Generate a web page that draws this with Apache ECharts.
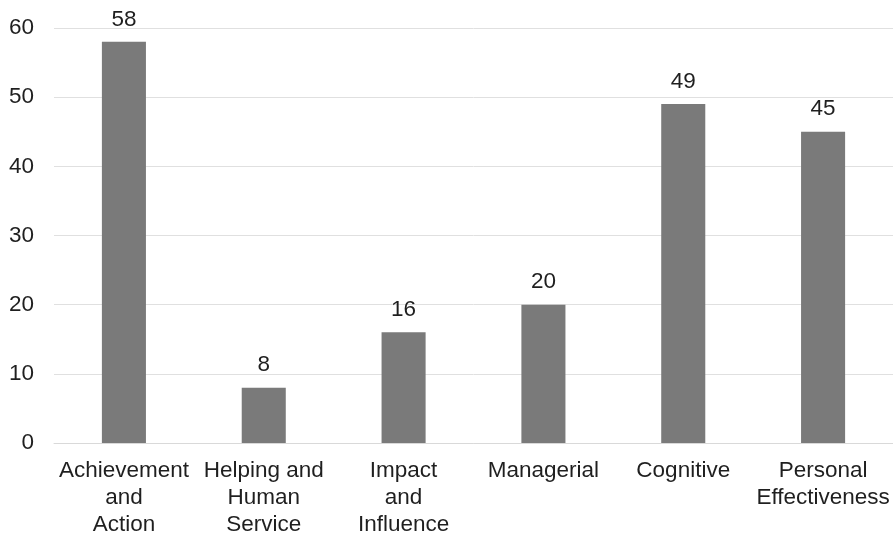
<!DOCTYPE html>
<html>
<head>
<meta charset="utf-8">
<style>
  html, body { margin: 0; padding: 0; background: #ffffff; }
  #chart { width: 893px; height: 538px; }
</style>
<script src="https://cdn.jsdelivr.net/npm/echarts@6/dist/echarts.min.js"></script>
</head>
<body>
<div id="chart"></div>
<script>
// Competency clusters and the count recorded for each
const categories = [
  'Achievement\nand\nAction',
  'Helping and\nHuman\nService',
  'Impact\nand\nInfluence',
  'Managerial',
  'Cognitive',
  'Personal\nEffectiveness'
];
const counts = [58, 8, 16, 20, 49, 45];
const yTicks = { min: 0, max: 60, interval: 10 };

const chart = echarts.init(document.getElementById('chart'), null, { renderer: 'canvas' });

const font = 'Liberation Sans, Arial, sans-serif';

chart.setOption({
  animation: false,
  grid: { left: 54, right: 0, top: 28, bottom: 95, containLabel: false },
  xAxis: {
    type: 'category',
    data: categories,
    axisTick: { show: false },
    axisLine: { show: true, lineStyle: { color: '#d9d9d9', width: 1 } },
    axisLabel: {
      interval: 0,
      margin: 14,
      color: '#1f1f1f',
      fontSize: 22.5,
      lineHeight: 27,
      fontFamily: font,
      align: 'center'
    }
  },
  yAxis: {
    type: 'value',
    min: yTicks.min,
    max: yTicks.max,
    interval: yTicks.interval,
    axisLine: { show: false },
    axisTick: { show: false },
    splitLine: { show: true, lineStyle: { color: '#e0e0e0', width: 1 } },
    axisLabel: {
      margin: 20,
      color: '#1f1f1f',
      fontSize: 22.5,
      fontFamily: font
    }
  },
  series: [{
    type: 'bar',
    data: counts,
    barWidth: '31.5%',
    itemStyle: { color: '#7a7a7a' },
    label: {
      show: true,
      position: 'top',
      distance: 11,
      color: '#1f1f1f',
      fontSize: 22.5,
      fontFamily: font
    }
  }]
});
</script>
</body>
</html>
